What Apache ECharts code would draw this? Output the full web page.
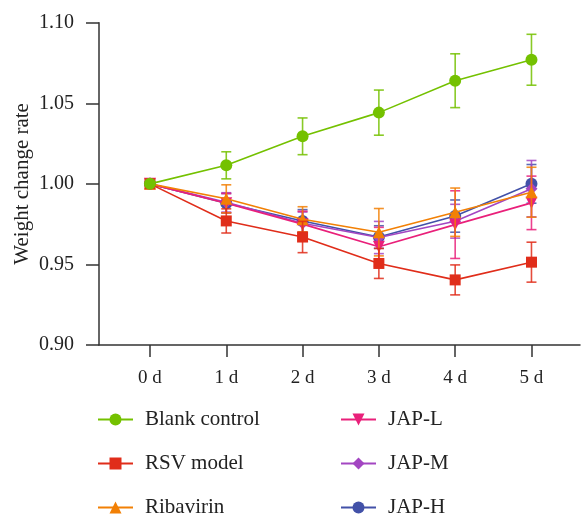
<!DOCTYPE html>
<html>
<head>
<meta charset="utf-8">
<script src="https://cdn.jsdelivr.net/npm/echarts@6/dist/echarts.min.js"></script>
<style>
  html, body { margin: 0; padding: 0; background: #fff; }
  #chart { width: 581px; height: 515px; }
</style>
</head>
<body>
<div id="chart"></div>
<script>
var days = ['0 d', '1 d', '2 d', '3 d', '4 d', '5 d'];
var yTicks = [0.90, 0.95, 1.00, 1.05, 1.10];

var names = ['Blank control', 'RSV model', 'Ribavirin', 'JAP-L', 'JAP-M', 'JAP-H'];
var colors = ['#74c100', '#e02d1a', '#f28005', '#e9207a', '#a346c2', '#4251a8'];
var symbols = ['circle', 'rect', 'triangle', 'path://M0,0 L10,0 L5,10 Z', 'diamond', 'circle'];

var blankMean = [1.000, 1.0115, 1.0295, 1.0442, 1.064, 1.077];
var blankErr  = [0, 0.0084, 0.0114, 0.014, 0.0167, 0.0158];
var rsvMean   = [1.000, 0.977, 0.967, 0.9506, 0.9404, 0.9514];
var rsvErr    = [0, 0.0075, 0.0097, 0.0093, 0.0093, 0.0124];
var ribaMean  = [1.000, 0.9907, 0.978, 0.970, 0.9824, 0.9948];
var ribaErr   = [0, 0.0087, 0.0078, 0.0147, 0.015, 0.0155];
var japLMean  = [1.000, 0.988, 0.975, 0.961, 0.9747, 0.9882];
var japLErr   = [0, 0.006, 0.008, 0.012, 0.021, 0.0166];
var japMMean  = [1.000, 0.9885, 0.9755, 0.9667, 0.9768, 0.997];
var japMErr   = [0, 0.006, 0.007, 0.010, 0.0105, 0.0175];
var japHMean  = [1.000, 0.988, 0.977, 0.967, 0.980, 1.000];
var japHErr   = [0, 0.006, 0.007, 0.007, 0.010, 0.012];

var means = [blankMean, rsvMean, ribaMean, japLMean, japMMean, japHMean];
var errs = [blankErr, rsvErr, ribaErr, japLErr, japMErr, japHErr];

var FONT = 'Liberation Serif';
var AXIS_COLOR = '#333';

function errorBarRender(params, api) {
  var x = api.value(0);
  var hi = api.coord([x, api.value(1) + api.value(2)]);
  var lo = api.coord([x, api.value(1) - api.value(2)]);
  var half = 5;
  var style = { stroke: api.visual('color'), lineWidth: 1.6, opacity: 0.85 };
  return {
    type: 'group',
    children: [
      { type: 'line', shape: { x1: hi[0], y1: hi[1], x2: lo[0], y2: lo[1] }, style: style },
      { type: 'line', shape: { x1: hi[0] - half, y1: hi[1], x2: hi[0] + half, y2: hi[1] }, style: style },
      { type: 'line', shape: { x1: lo[0] - half, y1: lo[1], x2: lo[0] + half, y2: lo[1] }, style: style }
    ]
  };
}

var series = [];
names.forEach(function (name, i) {
  // later groups sit underneath, blank control on top
  var z = 10 + (names.length - i) * 2;
  series.push({
    name: name,
    type: 'line',
    data: means[i].map(function (m, d) { return [d, m]; }),
    symbol: symbols[i],
    symbolSize: i === 1 ? 11 : 12,
    showAllSymbol: true,
    itemStyle: { color: colors[i], opacity: 1 },
    lineStyle: { color: colors[i], width: 1.6 },
    z: z
  });
  series.push({
    name: name + ' err',
    type: 'custom',
    renderItem: errorBarRender,
    itemStyle: { color: colors[i] },
    data: means[i].map(function (m, d) { return [d, m, errs[i][d]]; }),
    z: z - 1,
    silent: true
  });
});

function legendCfg(list, left) {
  return {
    data: list,
    orient: 'vertical',
    left: left,
    top: 404,
    height: 130,
    itemWidth: 35,
    itemHeight: 15,
    itemGap: 23,
    textStyle: { fontFamily: FONT, fontSize: 21, color: '#222', padding: [0, 0, 0, 7] }
  };
}

var chart = echarts.init(document.getElementById('chart'));
chart.setOption({
  animation: false,
  backgroundColor: '#fff',
  grid: { left: 99, right: 1, top: 22.7, bottom: 170, containLabel: false },
  legend: [legendCfg(names.slice(0, 3), 92), legendCfg(names.slice(3), 335)],
  xAxis: {
    type: 'value',
    min: -0.668,
    max: 5.636,
    splitLine: { show: false },
    axisLine: { onZero: false, lineStyle: { color: AXIS_COLOR, width: 1.5 } },
    axisTick: { show: true, length: 12, customValues: [0, 1, 2, 3, 4, 5], lineStyle: { color: AXIS_COLOR, width: 1.5 } },
    axisLabel: {
      customValues: [0, 1, 2, 3, 4, 5],
      formatter: function (v) { return days[Math.round(v)]; },
      margin: 24,
      fontFamily: FONT, fontSize: 19, color: '#222'
    }
  },
  yAxis: {
    type: 'value',
    min: yTicks[0],
    max: yTicks[yTicks.length - 1],
    interval: 0.05,
    name: 'Weight change rate',
    nameLocation: 'middle',
    nameGap: 66,
    nameMoveOverlap: false,
    nameTextStyle: { fontFamily: FONT, fontSize: 21, color: '#222' },
    splitLine: { show: false },
    axisLine: { show: true, onZero: false, lineStyle: { color: AXIS_COLOR, width: 1.5 } },
    axisTick: { show: true, length: 13, lineStyle: { color: AXIS_COLOR, width: 1.5 } },
    axisLabel: {
      formatter: function (v) { return v.toFixed(2); },
      margin: 25,
      fontFamily: FONT, fontSize: 20, color: '#222'
    }
  },
  series: series
});
</script>
</body>
</html>
